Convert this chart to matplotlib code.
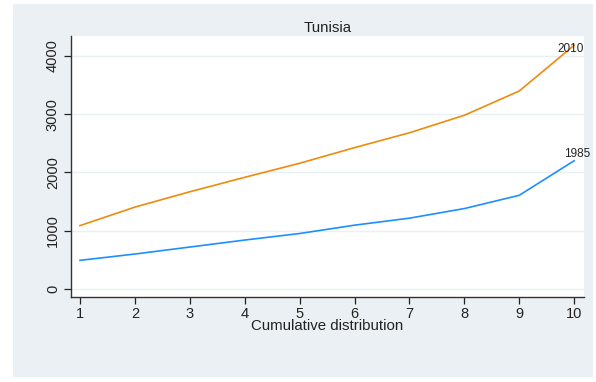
import matplotlib
matplotlib.use("Agg")
import matplotlib.pyplot as plt
from matplotlib.patches import Rectangle

# Cumulative distribution deciles and income levels
deciles = [1, 2, 3, 4, 5, 6, 7, 8, 9, 10]
values_1985 = [492, 600, 720, 840, 952, 1095, 1215, 1380, 1607, 2200]
values_2010 = [1088, 1405, 1668, 1916, 2157, 2425, 2680, 2980, 3396, 4180]
series_labels = ["1985", "2010"]
y_ticks = [0, 1000, 2000, 3000, 4000]

plt.rcParams["font.family"] = ["Liberation Sans", "DejaVu Sans"]

W, H = 596, 382
fig = plt.figure(figsize=(W / 100, H / 100), dpi=100)
fig.patch.set_facecolor("white")

# outer graph region background
bg = Rectangle((13 / W, 1 - 377 / H), (593 - 13) / W, (377 - 4) / H,
               transform=fig.transFigure, facecolor="#eaf0f3",
               edgecolor="none", zorder=0)
fig.patches.append(bg)

ax = fig.add_axes([71 / W, 1 - 297 / H, (584 - 71) / W, (297 - 36) / H])
ax.set_facecolor("white")
ax.set_zorder(1)

c85 = "#1e8fff"
c10 = "#ee8b0e"
ax.plot(deciles, values_1985, color=c85, lw=1.2)
ax.plot(deciles, values_2010, color=c10, lw=1.2)

ax.text(deciles[-1] + 0.05, values_1985[-1] + 20, series_labels[0], ha="center",
        va="bottom", fontsize=8.5, color="#222222")
ax.text(deciles[-1] - 0.07, values_2010[-1] - 170, series_labels[1], ha="center",
        va="bottom", fontsize=8.5, color="#222222")

ax.set_xlim(0.836, 10.18)
ax.set_ylim(-137, 4340)
ax.set_xticks(deciles)
ax.set_yticks(y_ticks)
ax.set_yticklabels([str(v) for v in y_ticks], rotation=90, va="center")
ax.tick_params(axis="both", labelsize=10.5, colors="#222222", length=5,
               width=0.9, direction="out")
ax.tick_params(axis="x", pad=2)
ax.tick_params(axis="y", pad=3)
for t in ax.get_xticklines() + ax.get_yticklines():
    t.set_color("#333333")

ax.grid(axis="y", color="#eaf1f3", lw=1.0)
ax.set_axisbelow(True)
for s in ["top", "right"]:
    ax.spines[s].set_visible(False)
for s in ["left", "bottom"]:
    ax.spines[s].set_color("#333333")
    ax.spines[s].set_linewidth(1.0)

ax.set_xlabel("Cumulative distribution", fontsize=10.8, color="#222222", labelpad=-1)
ax.set_title("Tunisia", fontsize=10.8, color="#222222", pad=3)

fig.savefig("out.png", dpi=100, facecolor=fig.get_facecolor())
